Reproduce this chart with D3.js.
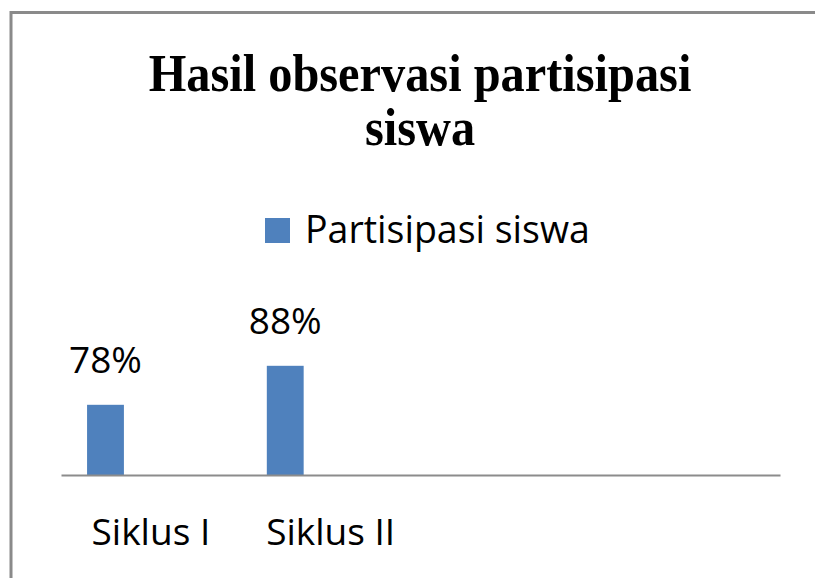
<!DOCTYPE html>
<html>
<head>
<meta charset="utf-8">
<script src="https://cdn.jsdelivr.net/npm/d3@7/dist/d3.min.js"></script>
<style>
  html, body { margin: 0; padding: 0; background: #fff; }
  svg { display: block; }
</style>
</head>
<body>
<svg id="chart" width="815" height="578"></svg>
<script>
// ---- data ----
const titleLines = ["Hasil observasi partisipasi", "siswa"];
const seriesName = "Partisipasi siswa";
const categories = ["Siklus I", "Siklus II", "", ""];
const values = [0.78, 0.88, null, null];
const yDomain = [0.6, 1.0];

// ---- layout ----
const svg = d3.select("#chart");
const W = 815, H = 578;
const plot = { left: 61, right: 780, top: 319, bottom: 475 };
const sans = "'Open Sans', sans-serif";
const barColor = "#4F81BD";

// frame
svg.append("rect")
  .attr("x", 11).attr("y", 12.5)
  .attr("width", W + 20).attr("height", H + 20)
  .attr("fill", "#fff")
  .attr("stroke", "#8a8a8a").attr("stroke-width", 3);

// title (slightly condensed serif)
const title = svg.append("text")
  .attr("transform", "translate(420,0) scale(0.93,1)")
  .attr("text-anchor", "middle")
  .attr("font-family", "'Liberation Serif', 'Times New Roman', serif")
  .attr("font-weight", "bold")
  .attr("font-size", 52)
  .attr("fill", "#000");
titleLines.forEach((t, i) => {
  title.append("tspan").attr("x", 0).attr("y", 91 + i * 54).text(t);
});

// legend
const legend = svg.append("g").attr("transform", "translate(265,218)");
legend.append("rect").attr("width", 25).attr("height", 25).attr("fill", barColor);
legend.append("text")
  .attr("x", 40).attr("y", 25)
  .attr("font-family", sans).attr("font-size", 37.5).attr("fill", "#000")
  .text(seriesName);

// scales
const x = d3.scaleBand()
  .domain(categories.map((c, i) => i))
  .range([plot.left, plot.right])
  .padding(0);
const y = d3.scaleLinear().domain(yDomain).range([plot.bottom, plot.top]);

const bw = x.bandwidth();
const barOffset = bw * 0.145;
const barWidth = bw * 0.205;

const data = categories.map((c, i) => ({ i, c, v: values[i] }));

// bars
svg.append("g").selectAll("rect")
  .data(data.filter(d => d.v != null))
  .join("rect")
  .attr("x", d => x(d.i) + barOffset)
  .attr("y", d => y(d.v))
  .attr("width", barWidth)
  .attr("height", d => y(yDomain[0]) - y(d.v))
  .attr("fill", barColor);

// data labels
const fmt = d3.format(".0%");
svg.append("g").selectAll("text")
  .data(data.filter(d => d.v != null))
  .join("text")
  .attr("x", d => x(d.i) + barOffset + barWidth / 2)
  .attr("y", d => y(d.v) - 32)
  .attr("text-anchor", "middle")
  .attr("font-family", sans).attr("font-size", 37).attr("fill", "#000")
  .text(d => fmt(d.v));

// x axis
const xAxis = d3.axisBottom(x)
  .tickSize(0)
  .tickPadding(0)
  .tickFormat(i => categories[i]);
const gx = svg.append("g")
  .attr("transform", `translate(0,${plot.bottom})`)
  .call(xAxis);
gx.select(".domain").attr("stroke", "#8c8c8c").attr("stroke-width", 2);
gx.selectAll(".tick text")
  .attr("y", 70).attr("dy", 0)
  .attr("font-family", sans).attr("font-size", 37).attr("fill", "#000");
</script>
</body>
</html>
